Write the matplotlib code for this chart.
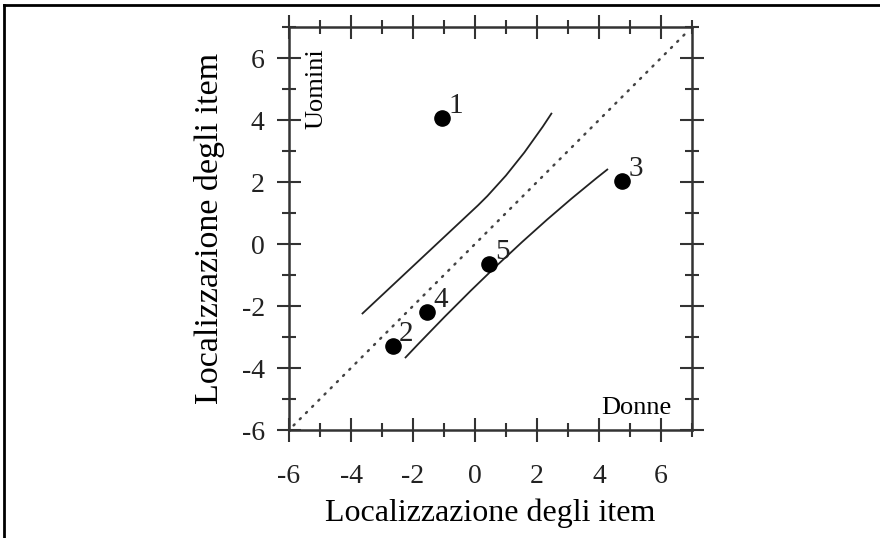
import matplotlib
matplotlib.use("Agg")
import matplotlib.pyplot as plt
from matplotlib.lines import Line2D
from matplotlib.path import Path
from matplotlib.patches import PathPatch

plt.rcParams['font.family'] = ['Liberation Serif', 'DejaVu Serif']

# item locations (x: donne, y: uomini)
item_x = [-1.05, -2.65, 4.75, -1.55, 0.45]
item_y = [4.05, -3.28, 2.03, -2.18, -0.65]
item_lab = ['1', '2', '3', '4', '5']

# control limits, as path vertices (start, [control], end)
upper_x = [-3.65, 0.1, 1.3, 2.48]
upper_y = [-2.26, 1.25, 2.4, 4.23]
upper_codes = [Path.MOVETO, Path.LINETO, Path.CURVE3, Path.CURVE3]
lower_x = [-2.26, 1.2, 4.29]
lower_y = [-3.68, 0.0, 2.42]
lower_codes = [Path.MOVETO, Path.CURVE3, Path.CURVE3]

ticks_major = [-6, -4, -2, 0, 2, 4, 6]
ticks_minor = [-5, -3, -1, 1, 3, 5, 7]

fig = plt.figure(figsize=(8.8, 5.38), dpi=100)
ax = fig.add_axes([289/880, 1-430/538, 403/880, 403/538])

ax.plot([-5.85, 6.9], [-5.85, 6.9], color='#444444', lw=1.8, linestyle=(0, (0.5, 3.0)),
        dash_capstyle='round')
for xs, ys, codes in [(upper_x, upper_y, upper_codes), (lower_x, lower_y, lower_codes)]:
    p = Path(list(zip(xs, ys)), codes)
    ax.add_patch(PathPatch(p, facecolor='none', edgecolor='#222222', lw=1.3))
ax.scatter(item_x, item_y, s=120, color='black', zorder=5)
for x, y, t in zip(item_x, item_y, item_lab):
    ax.text(x + 0.2, y + 0.16, t, fontsize=21, ha='left', va='baseline', color='#222222')

ax.text(-5.1, 6.3, 'Uomini', rotation=90, fontsize=19, ha='center', va='top')
ax.text(6.35, -5.48, 'Donne', fontsize=19, ha='right', va='baseline')

ax.set_xlim(-6, 7)
ax.set_ylim(-6, 7)
for a in (ax.xaxis, ax.yaxis):
    a.set_ticks(ticks_major)
    a.set_ticks(ticks_minor, minor=True)
ax.set_xticklabels([str(t) for t in ticks_major])
ax.set_yticklabels([str(t) for t in ticks_major])
ax.tick_params(which='both', direction='inout', top=True, right=True,
               labelsize=20, color='#333333', labelcolor='#222222')
ax.tick_params(which='major', length=17, width=1.5)
ax.tick_params(which='minor', length=10, width=1.5)
ax.tick_params(axis='x', which='major', pad=16)
ax.tick_params(axis='y', which='major', pad=9)
for s in ax.spines.values():
    s.set_linewidth(1.8)
    s.set_color('#333333')

ax.set_xlabel('Localizzazione degli item', fontsize=23, labelpad=7)
ax.set_ylabel('Localizzazione degli item', fontsize=24.5, labelpad=12)

# page frame (top and left edges only)
fig.add_artist(Line2D([4/880, 1], [1-5/538, 1-5/538], color='black', lw=2))
fig.add_artist(Line2D([4/880, 4/880], [0, 1-5/538], color='black', lw=2))

fig.savefig('out.png', dpi=100)
